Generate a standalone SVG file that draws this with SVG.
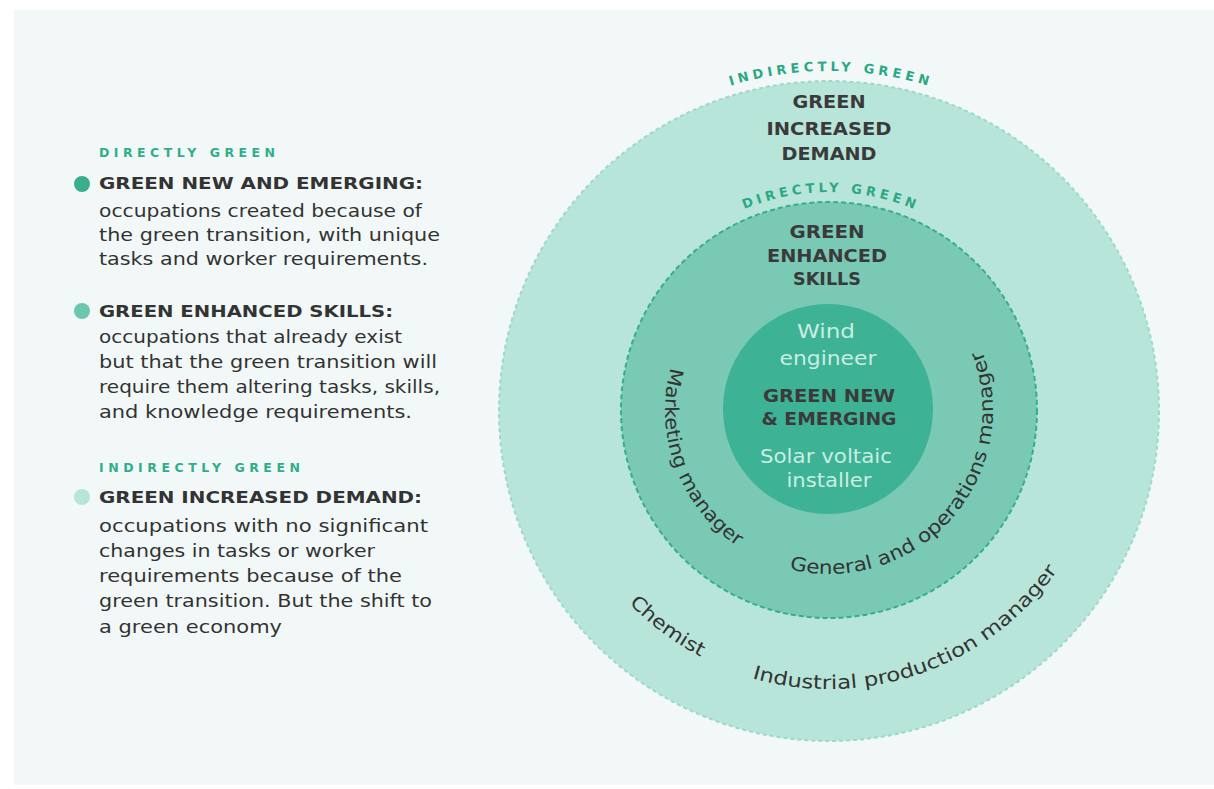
<svg xmlns="http://www.w3.org/2000/svg" width="1214" height="789" viewBox="0 0 1214 789">
<style>
.hdr{font-family:"DejaVu Sans",sans-serif;font-weight:bold;font-size:12.5px;fill:#2fae8c}
.ttl{font-family:"DejaVu Sans",sans-serif;font-weight:bold;font-size:16px;fill:#333}
.body{font-family:"DejaVu Sans",sans-serif;font-size:17px;fill:#333}
.lbl{font-family:"DejaVu Sans",sans-serif;font-weight:bold;font-size:18px;fill:#3a3a3a;text-anchor:middle}
.wht{font-family:"DejaVu Sans",sans-serif;font-size:19px;fill:#c9eee3;text-anchor:middle}
.arc{font-family:"DejaVu Sans",sans-serif;font-size:19px;fill:#333}
.arct{font-family:"DejaVu Sans",sans-serif;font-weight:bold;font-size:13px;fill:#2aa886;text-anchor:middle}
</style>
<defs>
<path id="pIndir" d="M659.5,116.4 A339,339 0 0 1 998.5,116.4"/>
<path id="pDir" d="M688.9,243 A218,218 0 0 1 969.1,243"/>
<path id="pMkt" d="M670.6,367.6 A164,164 0 0 0 737.3,546.0"/>
<path id="pGen" d="M789.3,569.1 A164,164 0 0 0 982.1,351.2"/>
<path id="pChem" d="M629.0,603.1 A278,278 0 0 0 702.8,657.7"/>
<path id="pInd" d="M752.1,678.2 A279,279 0 0 0 1057.6,570.0"/>
</defs>
<rect x="0" y="0" width="1214" height="789" fill="#ffffff"/>
<rect x="14" y="10" width="1200" height="775" fill="#f2f8f8"/>

<g id="legend-directly">
<text class="hdr" x="99" y="157" textLength="176" lengthAdjust="spacing">DIRECTLY GREEN</text>
</g>
<g id="legend-new">
<circle cx="82" cy="184" r="8" fill="#3aae8e"/>
<text class="ttl" x="99" y="189" textLength="324" lengthAdjust="spacingAndGlyphs">GREEN NEW AND EMERGING:</text>
<text class="body" x="99" y="217" textLength="323" lengthAdjust="spacingAndGlyphs">occupations created because of</text>
<text class="body" x="99" y="241" textLength="341" lengthAdjust="spacingAndGlyphs">the green transition, with unique</text>
<text class="body" x="99" y="265" textLength="329" lengthAdjust="spacingAndGlyphs">tasks and worker requirements.</text>
</g>
<g id="legend-enhanced">
<circle cx="82" cy="311" r="8" fill="#6cc6b1"/>
<text class="ttl" x="99" y="317" textLength="294" lengthAdjust="spacingAndGlyphs">GREEN ENHANCED SKILLS:</text>
<text class="body" x="99" y="343" textLength="303" lengthAdjust="spacingAndGlyphs">occupations that already exist</text>
<text class="body" x="99" y="368" textLength="338" lengthAdjust="spacingAndGlyphs">but that the green transition will</text>
<text class="body" x="99" y="393" textLength="341" lengthAdjust="spacingAndGlyphs">require them altering tasks, skills,</text>
<text class="body" x="99" y="418" textLength="313" lengthAdjust="spacingAndGlyphs">and knowledge requirements.</text>
</g>
<g id="legend-indirectly">
<text class="hdr" x="99" y="472" textLength="201" lengthAdjust="spacing">INDIRECTLY GREEN</text>
</g>
<g id="legend-demand">
<circle cx="82" cy="497" r="8" fill="#b6e5d9"/>
<text class="ttl" x="99" y="503" textLength="323" lengthAdjust="spacingAndGlyphs">GREEN INCREASED DEMAND:</text>
<text class="body" x="99" y="532" textLength="329" lengthAdjust="spacingAndGlyphs">occupations with no significant</text>
<text class="body" x="99" y="557" textLength="276" lengthAdjust="spacingAndGlyphs">changes in tasks or worker</text>
<text class="body" x="99" y="582" textLength="303" lengthAdjust="spacingAndGlyphs">requirements because of the</text>
<text class="body" x="99" y="607" textLength="333" lengthAdjust="spacingAndGlyphs">green transition. But the shift to</text>
<text class="body" x="99" y="633" textLength="183" lengthAdjust="spacingAndGlyphs">a green economy</text>
</g>

<g id="ring-increased-demand">
<circle cx="829" cy="411" r="330" fill="#b8e5d9" stroke="#9cd9c8" stroke-width="2" stroke-dasharray="4 3"/>
<text class="arct"><textPath href="#pIndir" startOffset="50%" textLength="200" lengthAdjust="spacing">INDIRECTLY GREEN</textPath></text>
<text class="lbl" x="829" y="108" textLength="73" lengthAdjust="spacingAndGlyphs">GREEN</text>
<text class="lbl" x="829" y="135" textLength="125" lengthAdjust="spacingAndGlyphs">INCREASED</text>
<text class="lbl" x="829" y="160" textLength="95" lengthAdjust="spacingAndGlyphs">DEMAND</text>
<text class="arc"><textPath href="#pChem" textLength="90" lengthAdjust="spacingAndGlyphs">Chemist</textPath></text>
<text class="arc"><textPath href="#pInd" startOffset="0" textLength="106.6" lengthAdjust="spacingAndGlyphs">Industrial</textPath></text>
<text class="arc"><textPath href="#pInd" startOffset="113.8" textLength="122.5" lengthAdjust="spacingAndGlyphs">production</textPath></text>
<text class="arc"><textPath href="#pInd" startOffset="243.5" textLength="102.1" lengthAdjust="spacingAndGlyphs">manager</textPath></text>
</g>

<g id="ring-enhanced-skills">
<circle cx="829" cy="410" r="208" fill="#79c9b5" stroke="#35ae8e" stroke-width="2" stroke-dasharray="5 3"/>
<text class="arct"><textPath href="#pDir" startOffset="50%" textLength="174" lengthAdjust="spacing">DIRECTLY GREEN</textPath></text>
<text class="lbl" x="827" y="238" textLength="75" lengthAdjust="spacingAndGlyphs">GREEN</text>
<text class="lbl" x="827" y="262" textLength="120" lengthAdjust="spacingAndGlyphs">ENHANCED</text>
<text class="lbl" x="827" y="285" textLength="68" lengthAdjust="spacingAndGlyphs">SKILLS</text>
<text class="arc"><textPath href="#pMkt" startOffset="0" textLength="103.7" lengthAdjust="spacingAndGlyphs">Marketing</textPath></text>
<text class="arc"><textPath href="#pMkt" startOffset="110.3" textLength="92.8" lengthAdjust="spacingAndGlyphs">manager</textPath></text>
<text class="arc"><textPath href="#pGen" startOffset="0" textLength="85" lengthAdjust="spacingAndGlyphs">General</textPath></text>
<text class="arc"><textPath href="#pGen" startOffset="91.9" textLength="40.6" lengthAdjust="spacingAndGlyphs">and</textPath></text>
<text class="arc"><textPath href="#pGen" startOffset="139.4" textLength="114.9" lengthAdjust="spacingAndGlyphs">operations</textPath></text>
<text class="arc"><textPath href="#pGen" startOffset="261.2" textLength="97" lengthAdjust="spacingAndGlyphs">manager</textPath></text>
</g>

<g id="core-new-emerging">
<circle cx="828" cy="409" r="105" fill="#3db294"/>
<text class="wht" x="826" y="338" textLength="58" lengthAdjust="spacingAndGlyphs">Wind</text>
<text class="wht" x="828" y="365" textLength="97" lengthAdjust="spacingAndGlyphs">engineer</text>
<text class="lbl" x="829" y="402" textLength="132" lengthAdjust="spacingAndGlyphs">GREEN NEW</text>
<text class="lbl" x="829" y="425" textLength="135" lengthAdjust="spacingAndGlyphs">&amp; EMERGING</text>
<text class="wht" x="826" y="463" textLength="132" lengthAdjust="spacingAndGlyphs">Solar voltaic</text>
<text class="wht" x="829" y="487" textLength="85" lengthAdjust="spacingAndGlyphs">installer</text>
</g>
</svg>
